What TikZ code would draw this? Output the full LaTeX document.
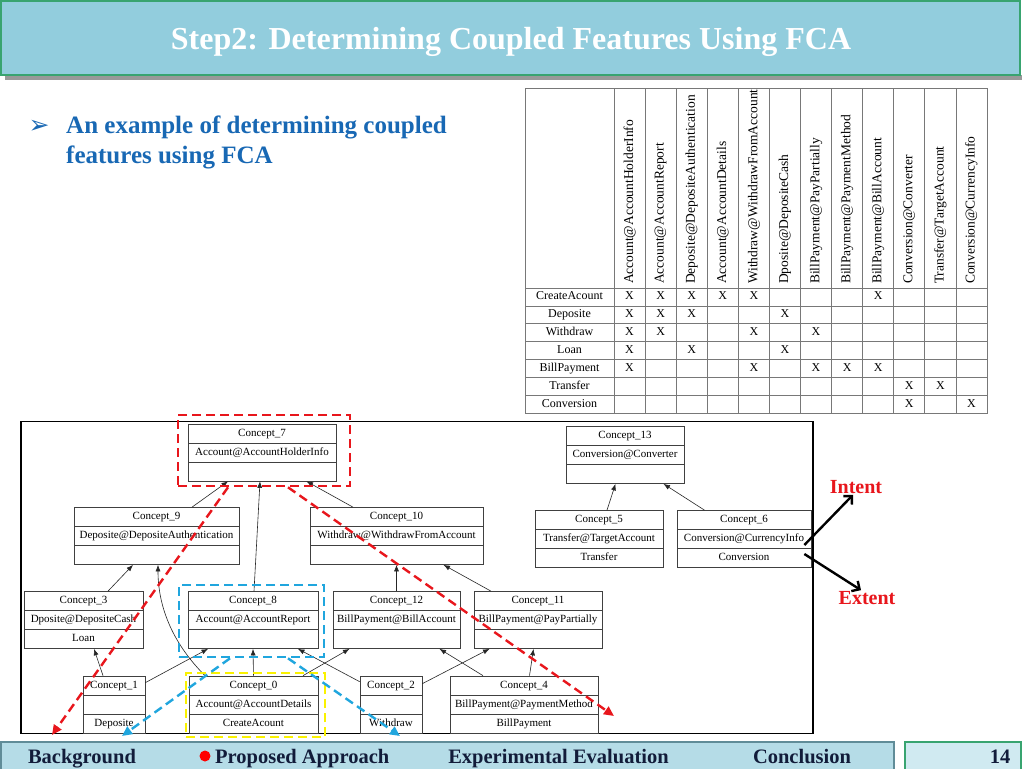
\documentclass[tikz,border=0pt]{standalone}
\usepackage{fontspec}
\setmainfont{Liberation Serif}
\newfontfamily\dingfont{DejaVu Sans}
\usetikzlibrary{arrows.meta,shapes.multipart}
\definecolor{titleblue}{RGB}{146,205,221}
\definecolor{titlegreen}{RGB}{56,164,112}
\definecolor{textblue}{RGB}{24,104,180}
\definecolor{footblue}{RGB}{181,220,231}
\definecolor{footedge}{RGB}{96,140,152}
\definecolor{pagebox}{RGB}{208,234,241}
\definecolor{navy}{RGB}{18,28,58}
\definecolor{hlred}{RGB}{232,22,28}
\definecolor{hlblue}{RGB}{32,166,222}
\definecolor{hlyellow}{RGB}{250,242,0}
\definecolor{gridgray}{RGB}{120,120,120}
\newcommand{\concept}[6]{\node[concept, minimum width=#3pt] (#1) at (#2) {\strut #4\nodepart{two}\strut #5\nodepart{three}\strut #6};}

\begin{document}
\begin{tikzpicture}[x=1pt, y=-1pt,
	concept/.style={draw=black!75, line width=0.7pt, fill=white, rectangle split, rectangle split parts=3, inner xsep=2pt, inner ysep=2.65pt, font=\fontsize{11}{13}\selectfont},
	latt/.style={-{Latex[length=6.5pt,width=5pt]}, line width=0.6pt, black!85},
	colhead/.style={rotate=90, anchor=west, inner sep=0pt, font=\fontsize{13.5}{15}\selectfont},
	rowhead/.style={inner sep=0pt, text height=8.5pt, text depth=2.5pt, font=\fontsize{12}{14}\selectfont},
	hlbox/.style={inner sep=0pt, line width=2.6pt, dash pattern=on 9pt off 5pt},
	hlarrow/.style={-{Triangle[length=10pt,width=9pt]}, line width=2.4pt, dash pattern=on 9pt off 5pt},
	bigarrow/.style={-{Straight Barb[length=6pt,width=12pt]}, line width=2.4pt},
	labtext/.style={text=hlred, inner sep=1pt, font=\fontsize{20}{22}\selectfont\bfseries},
	foot/.style={text=navy, inner sep=0pt, text height=14pt, text depth=4pt, font=\fontsize{20.5}{22}\selectfont\bfseries}]
	\useasboundingbox (0,0) rectangle (1024,768);
	\fill[white] (0,0) rectangle (1024,768);
	\fill[black!40] (5,75) rectangle (1022,80);
	\draw[titlegreen, fill=titleblue, line width=1.5pt] (1,1) rectangle (1020,75);
	\node[text=white, font=\fontsize{32}{36}\selectfont\bfseries] (title) at (511,42) {Step2: Determining Coupled Features Using FCA};
	\node[text=textblue, font=\dingfont\fontsize{25}{28}\selectfont] (bullet) at (39,127) {➢};
	\node[anchor=north west, inner sep=0pt, align=left, text=textblue, font=\fontsize{25}{30}\selectfont\bfseries] (intro) at (66,116) {An example of determining coupled\\features using FCA};

	\draw[gridgray, line width=0.9pt] (525,88) rectangle (987,413);
	\foreach \i in {0,...,11}
		\draw[gridgray, line width=0.7pt] ({614+31.08*\i},88) -- ({614+31.08*\i},413);
	\foreach \j in {0,...,6}
		\draw[gridgray, line width=0.7pt] (525,{288+17.86*\j}) -- (987,{288+17.86*\j});
	\foreach \h [count=\i] in {Account@AccountHolderInfo, Account@AccountReport, Deposite@DepositeAuthentication, Account@AccountDetails, Withdraw@WithdrawFromAccount, Dposite@DepositeCash, BillPayment@PayPartially, BillPayment@PaymentMethod, BillPayment@BillAccount, Conversion@Converter, Transfer@TargetAccount, Conversion@CurrencyInfo}
		\node[colhead] (h\i) at ({614+31.08*(\i-0.5)},284) {\h};
	\foreach \r [count=\j] in {CreateAcount, Deposite, Withdraw, Loan, BillPayment, Transfer, Conversion}
		\node[rowhead] (r\j) at (569.5,{288+17.86*(\j-0.5)}) {\r};
	\foreach \j/\cl in {1/{1,2,3,4,5,9}, 2/{1,2,3,6}, 3/{1,2,5,7}, 4/{1,3,6}, 5/{1,5,7,8,9}, 6/{10,11}, 7/{10,12}}
		\foreach \i in \cl
			\node[rowhead] (x\j-\i) at ({614+31.08*(\i-0.5)},{288+17.86*(\j-0.5)}) {X};

	\draw[line width=1.3pt] (21,421.5) rectangle (813,733.5);
	\concept{c7}{262,452.5}{148}{Concept\_7}{Account@AccountHolderInfo}{}
	\concept{c9}{156.5,536}{165}{Concept\_9}{Deposite@DepositeAuthentication}{}
	\concept{c10}{396.5,536}{173}{Concept\_10}{Withdraw@WithdrawFromAccount}{}
	\concept{c13}{625,455}{118}{Concept\_13}{Conversion@Converter}{}
	\concept{c5}{599,539}{128}{Concept\_5}{Transfer@TargetAccount}{Transfer}
	\concept{c6}{744,539}{134}{Concept\_6}{Conversion@CurrencyInfo}{Conversion}
	\concept{c3}{83.5,620}{119}{Concept\_3}{Dposite@DepositeCash}{Loan}
	\concept{c8}{253,620}{130}{Concept\_8}{Account@AccountReport}{}
	\concept{c12}{396.5,620}{127}{Concept\_12}{BillPayment@BillAccount}{}
	\concept{c11}{538,620}{128}{Concept\_11}{BillPayment@PayPartially}{}
	\concept{c1}{114,704.5}{62}{Concept\_1}{}{Deposite}
	\concept{c0}{253.5,704.5}{129}{Concept\_0}{Account@AccountDetails}{CreateAcount}
	\concept{c2}{391,704.5}{62}{Concept\_2}{}{Withdraw}
	\concept{c4}{524,704.5}{148}{Concept\_4}{BillPayment@PaymentMethod}{BillPayment}

	\draw[latt] ([xshift=35.5pt]c9.north) -- ([xshift=-34pt]c7.south);
	\draw[latt] ([xshift=1pt]c8.north) -- ([xshift=-2pt]c7.south);
	\draw[latt] ([xshift=-43.5pt]c10.north) -- ([xshift=44.5pt]c7.south);
	\draw[latt] ([xshift=24.5pt]c3.north) -- ([xshift=-23.5pt]c9.south);
	\draw[latt] ([xshift=-48.5pt]c0.north) .. controls +(-30,-30) and +(0,45) .. ([xshift=1.5pt]c9.south);
	\draw[latt] ([xshift=-11pt]c1.north) -- ([xshift=10.5pt]c3.south);
	\draw[latt] ([yshift=-7pt]c1.north east) -- ([xshift=-45pt]c8.south);
	\draw[latt] (c0.north) -- (c8.south);
	\draw[latt] ([yshift=-6pt]c2.north west) -- ([xshift=45pt]c8.south);
	\draw[latt] ([xshift=49.5pt]c0.north) -- ([xshift=-47pt]c12.south);
	\draw[latt] ([yshift=-8pt]c2.north east) -- ([xshift=-48.5pt]c11.south);
	\draw[latt] ([xshift=-41pt]c4.north) -- ([xshift=43pt]c12.south);
	\draw[latt] ([xshift=5.5pt]c4.north) -- ([xshift=-4.5pt]c11.south);
	\draw[latt] (c12.north) -- (c10.south);
	\draw[latt] ([xshift=-47pt]c11.north) -- ([xshift=47pt]c10.south);
	\draw[latt] ([xshift=8pt]c5.north) -- ([xshift=-9.5pt]c13.south);
	\draw[latt] ([xshift=-39.5pt]c6.north) -- ([xshift=38.5pt]c13.south);

	\node[hlbox, draw=hlyellow, minimum width=139pt, minimum height=64pt] (hl0) at (255.5,705) {};
	\node[hlbox, draw=hlblue, minimum width=145pt, minimum height=72pt] (hl8) at (251.5,621) {};
	\node[hlbox, draw=hlred, minimum width=172pt, minimum height=71pt] (hl7) at (264,450.5) {};
	\coordinate (redL) at (52,735);
	\coordinate (redR) at (614,716);
	\coordinate (blueL) at (122,736);
	\coordinate (blueR) at (400,736);
	\draw[hlarrow, hlred] ([xshift=-36pt]hl7.south) -- (redL);
	\draw[hlarrow, hlred] ([xshift=24pt]hl7.south) -- (redR);
	\draw[hlarrow, hlblue] ([xshift=-21.5pt]hl8.south) -- (blueL);
	\draw[hlarrow, hlblue] ([xshift=36.5pt]hl8.south) -- (blueR);

	\node[labtext] (intent) at (856,487) {Intent};
	\node[labtext] (extent) at (867,598) {Extent};
	\draw[bigarrow] ([xshift=-7pt,yshift=-6pt]c6.east) -- ([xshift=-3pt]intent.south);
	\draw[bigarrow] ([xshift=-7pt,yshift=-15pt]c6.east) -- ([xshift=-6pt]extent.north);

	\draw[footedge, fill=footblue, line width=1.5pt] (1,742) rectangle (894,770);
	\draw[titlegreen, fill=pagebox, line width=1.5pt] (905,742) rectangle (1021,770);
	\node[foot] (f1) at (82,758) {Background};
	\fill[red] (205,756) circle (5.5pt);
	\node[foot, anchor=west] (f2) at (215,758) {Proposed Approach};
	\node[foot] (f3) at (558.5,758) {Experimental Evaluation};
	\node[foot] (f4) at (802,758) {Conclusion};
	\node[foot] (f5) at (1000,758) {14};
\end{tikzpicture}
\end{document}
